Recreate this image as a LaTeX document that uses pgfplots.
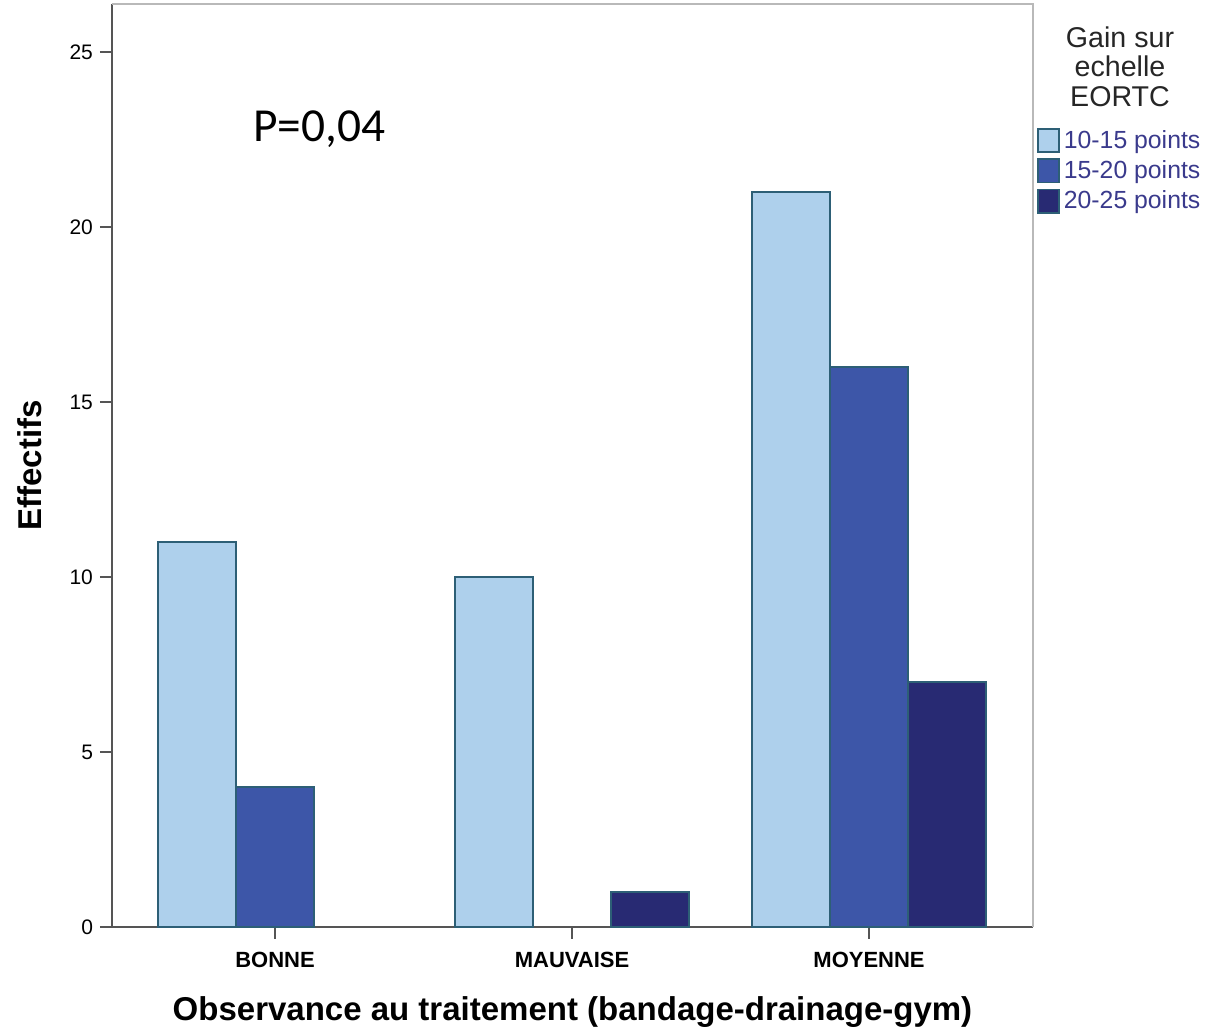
\documentclass[border=0pt]{standalone}
\usepackage{pgfplots}
\pgfplotsset{compat=1.18}
\usepackage{fontspec}
\setmainfont{Liberation Sans}
\newfontfamily\carlito{Carlito}
\definecolor{cA}{RGB}{174,208,236}
\definecolor{cB}{RGB}{61,86,168}
\definecolor{cC}{RGB}{40,42,115}
\definecolor{edge}{RGB}{45,95,118}
\definecolor{legtxt}{RGB}{58,58,140}
\definecolor{axc}{RGB}{85,85,85}
\begin{document}
\begin{tikzpicture}
\path[use as bounding box] (-56pt,-53pt) rectangle (547pt,463.5pt);
\begin{axis}[
  at={(0,0)}, anchor=south west,
  scale only axis, width=460.5pt, height=461.5pt,
  xmin=-0.549, xmax=2.552, ymin=0, ymax=26.37,
  axis x line*=bottom, axis y line*=left,
  axis line style={axc, line width=1pt},
  xtick={0,1,2}, xticklabels={BONNE,MAUVAISE,MOYENNE},
  ytick={0,5,10,15,20,25},
  tick align=outside, major tick length=6pt,
  tick style={axc, line width=1pt},
  x tick label style={font=\fontsize{11}{13}\selectfont\bfseries, yshift=-3pt},
  y tick label style={font=\fontsize{10.5}{12}\selectfont},
  /pgf/number format/assume math mode=true,
  xlabel={Observance au traitement (bandage-drainage-gym)},
  ylabel={Effectifs},
  xlabel style={font=\fontsize{16.5}{19}\selectfont\bfseries, at={(axis description cs:0.5,-0.092)}, anchor=center},
  ylabel style={font=\fontsize{16.5}{19}\selectfont\bfseries, at={(axis description cs:-0.089,0.5)}, anchor=center},
  ybar, bar width=39pt,
  legend style={at={(axis description cs:1.004,0.868)}, anchor=north west, draw=none, fill=none,
    font=\fontsize{12.4}{14}\selectfont\color{legtxt}, row sep=0.6pt, inner sep=0pt,
    /tikz/every even column/.append style={column sep=3pt}},
  legend cell align=left,
  legend image code/.code={\draw[#1, line width=0.9pt] (0pt,-5.8pt) rectangle (10.5pt,5.8pt);},
  clip=false,
]
\addplot[fill=cA, draw=edge, line width=1pt, bar shift=-39pt] coordinates {(0,11) (1,10) (2,21)};
\addplot[fill=cB, draw=edge, line width=1pt, bar shift=0pt] coordinates {(0,4) (2,16)};
\addplot[fill=cC, draw=edge, line width=1pt, bar shift=39pt] coordinates {(1,1) (2,7)};
\legend{10-15 points,15-20 points,20-25 points}
\draw[gray!55, line width=1pt] (rel axis cs:0,1) -- (rel axis cs:1,1) -- (rel axis cs:1,0);
\node[anchor=base west, inner sep=0pt, font=\carlito\fontsize{23.7}{28}\selectfont] at (axis cs:-0.074,22.45) {P=0,04};
\node[anchor=north, align=center, inner sep=0pt, font=\fontsize{14.3}{14.8}\selectfont, text=black!85] at (axis description cs:1.0945,0.976) {Gain sur\\echelle\\EORTC};
\end{axis}
\end{tikzpicture}
\end{document}
